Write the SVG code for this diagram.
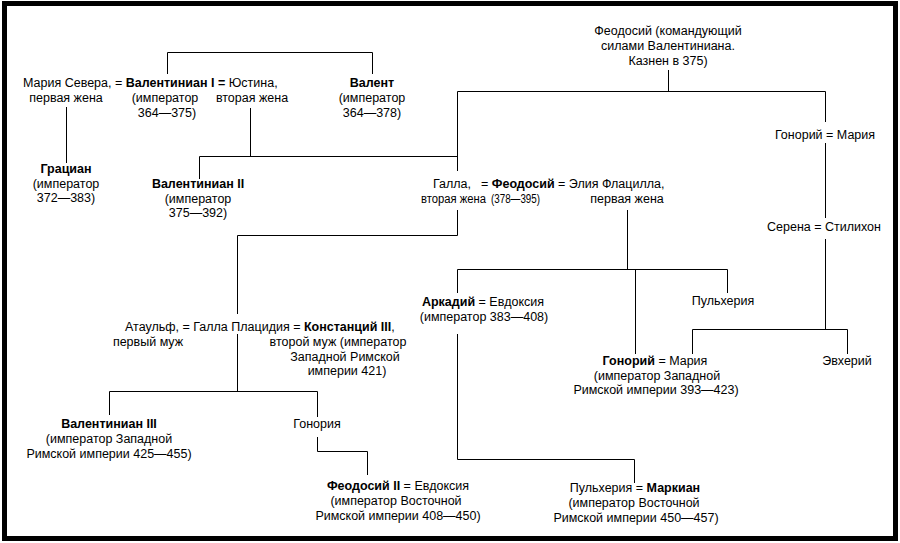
<svg xmlns="http://www.w3.org/2000/svg" width="900" height="543" viewBox="0 0 900 543">
<style>
text{font-family:"Liberation Sans",Arial,sans-serif;font-size:12.5px;fill:#000}
.m{text-anchor:middle}
.b{font-weight:bold}
.ln{stroke:#000;stroke-width:1;fill:none}
</style>
<rect x="0" y="0" width="900" height="543" fill="#fff"/>
<rect x="4.5" y="3.5" width="891" height="535" fill="#fff" stroke="#000" stroke-width="5"/>
<g id="connectors" class="ln">
<path d="M167.5 74V52.5H372.5V74"/>
<path d="M66.5 107V163"/>
<path d="M250.5 108V156.5M199.5 179V156.5H457.5"/>
<path d="M457.5 171V91.5H825.5V122M668.5 70V91.5"/>
<path d="M825.5 143V218M825.5 239V329.5M692.5 354V329.5H847.5V354"/>
<path d="M457.5 210V235.5H237.5V314M237.5 334V391.5M109.5 415V391.5H317.5V417M317.5 437V451.5H367.5V475"/>
<path d="M627.5 210V269.5M457.5 293V269.5H727.5V293M635.5 269.5V354M457.5 334V459.5H634.5V483"/>
</g>
<g id="valentinian1">
<text x="23" y="87">Мария Севера, = <tspan class="b">Валентиниан I =</tspan> Юстина,</text>
<text x="66" y="102" class="m">первая жена</text>
<text x="165" y="102" class="m">(император</text>
<text x="167" y="117" class="m">364—375)</text>
<text x="252" y="102" class="m">вторая жена</text>
</g>
<g id="valens">
<text x="372" y="87" class="m b">Валент</text>
<text x="372" y="102" class="m">(император</text>
<text x="372" y="117" class="m">364—378)</text>
</g>
<g id="theodosius-elder">
<text x="668" y="35" class="m">Феодосий (командующий</text>
<text x="668" y="50" class="m">силами Валентиниана.</text>
<text x="668" y="65" class="m">Казнен в 375)</text>
</g>
<g id="gratian">
<text x="66" y="173" class="m b">Грациан</text>
<text x="66" y="188" class="m">(император</text>
<text x="66" y="202" class="m">372—383)</text>
</g>
<g id="valentinian2">
<text x="198" y="188" class="m b">Валентиниан II</text>
<text x="198" y="203" class="m">(император</text>
<text x="198" y="217" class="m">375—392)</text>
</g>
<g id="theodosius1">
<text x="452" y="188" class="m">Галла,</text>
<text x="481" y="188">= <tspan class="b">Феодосий</tspan> = Элия Флацилла,</text>
<text x="421" y="203" textLength="65" lengthAdjust="spacingAndGlyphs">вторая жена</text>
<text x="491" y="203" textLength="49" lengthAdjust="spacingAndGlyphs">(378—395)</text>
<text x="627" y="203" class="m">первая жена</text>
</g>
<g id="honorius-maria-upper">
<text x="825" y="139" class="m">Гонорий = Мария</text>
</g>
<g id="serena">
<text x="824" y="231" class="m">Серена = Стилихон</text>
</g>
<g id="arcadius">
<text x="483" y="306" class="m"><tspan class="b">Аркадий</tspan> = Евдоксия</text>
<text x="484" y="321" class="m">(император 383—408)</text>
</g>
<g id="pulcheria-upper">
<text x="723" y="305" class="m">Пульхерия</text>
</g>
<g id="galla-placidia">
<text x="125" y="331">Атаульф, = Галла Плацидия = <tspan class="b">Констанций III</tspan>,</text>
<text x="148" y="346" class="m">первый муж</text>
<text x="338" y="346" class="m">второй муж (император</text>
<text x="345" y="361" class="m">Западной Римской</text>
<text x="347" y="375" class="m">империи 421)</text>
</g>
<g id="honorius">
<text x="655" y="365" class="m"><tspan class="b">Гонорий</tspan> = Мария</text>
<text x="657" y="380" class="m">(император Западной</text>
<text x="656" y="394" class="m">Римской империи 393—423)</text>
</g>
<g id="eucherius">
<text x="847" y="365" class="m">Эвхерий</text>
</g>
<g id="valentinian3">
<text x="109" y="428" class="m b">Валентиниан III</text>
<text x="109" y="443" class="m">(император Западной</text>
<text x="109" y="458" class="m">Римской империи 425—455)</text>
</g>
<g id="honoria">
<text x="317" y="428" class="m">Гонория</text>
</g>
<g id="theodosius2">
<text x="398" y="490" class="m"><tspan class="b">Феодосий II</tspan> = Евдоксия</text>
<text x="396" y="505" class="m">(император Восточной</text>
<text x="398" y="520" class="m">Римской империи 408—450)</text>
</g>
<g id="marcian">
<text x="635" y="492" class="m">Пульхерия = <tspan class="b">Маркиан</tspan></text>
<text x="634" y="507" class="m">(император Восточной</text>
<text x="636" y="522" class="m">Римской империи 450—457)</text>
</g>
</svg>
